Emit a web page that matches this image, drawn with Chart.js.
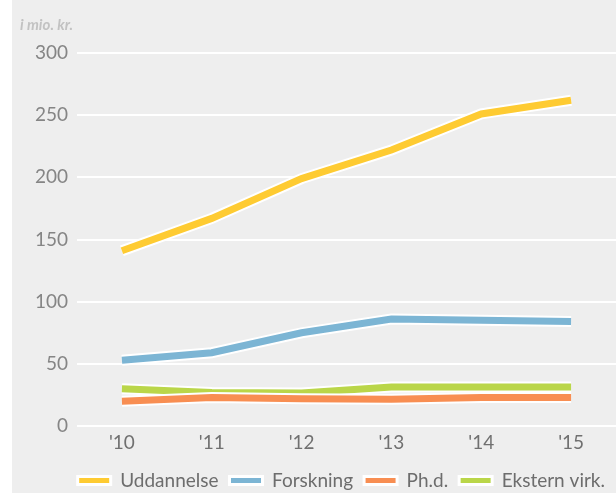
<!DOCTYPE html>
<html lang="da">
<head>
<meta charset="UTF-8">
<title>Indtægter</title>
<script src="https://cdn.jsdelivr.net/npm/chart.js@4.4.0/dist/chart.umd.min.js"></script>
<style>
    body {
        margin: 0;
        background: #ffffff;
    }
    .wrap {
        position: absolute;
        left: 12px;
        top: 0;
        width: 604px;
        height: 493px;
        background: #eeeeee;
    }
</style>
</head>
<body>
<div class="wrap">
    <canvas id="chart" width="604" height="493"></canvas>
</div>
<script>
    const years = ["'10", "'11", "'12", "'13", "'14", "'15"];
    const uddannelse = [141, 167, 199, 222, 251, 262];
    const forskning = [53, 59, 75, 86, 85, 84];
    const phd = [20, 23, 22, 21.5, 23, 23];
    const ekstern = [30, 27, 26.5, 31.5, 31.5, 31.5];

    const seriesNames = ['Uddannelse', 'Forskning', 'Ph.d.', 'Ekstern virk.'];
    const seriesColors = ['#fecb32', '#7cb5d4', '#f88e52', '#bad649'];

    // white edge under each line, so crossing lines stay apart
    const outline = {
        id: 'outline',
        beforeDatasetDraw(chart, args) {
            const pts = args.meta.data;
            const ctx = chart.ctx;
            ctx.save();
            ctx.beginPath();
            pts.forEach((p, i) => i ? ctx.lineTo(p.x, p.y) : ctx.moveTo(p.x, p.y));
            ctx.lineWidth = 11;
            ctx.lineJoin = 'miter';
            ctx.lineCap = 'butt';
            ctx.strokeStyle = '#ffffff';
            ctx.stroke();
            ctx.restore();
        }
    };

    // legend sits close to the bottom edge: cap its height
    const legendFit = {
        id: 'legendFit',
        beforeInit(chart) {
            const fit = chart.legend.fit;
            chart.legend.fit = function () {
                fit.call(this);
                this.height = 33;
            };
        }
    };

    const values = [uddannelse, forskning, phd, ekstern];
    const datasets = values.map((data, i) => ({
        label: seriesNames[i],
        data: data,
        borderColor: seriesColors[i],
        backgroundColor: seriesColors[i],
        borderWidth: 7,
        borderCapStyle: 'butt',
        borderJoinStyle: 'miter',
        pointRadius: 0,
        tension: 0
    }));

    new Chart(document.getElementById('chart'), {
        type: 'line',
        data: { labels: years, datasets: datasets },
        plugins: [outline, legendFit],
        options: {
            responsive: false,
            animation: false,
            layout: { padding: { left: 8, right: 0, top: 0, bottom: 0 } },
            plugins: {
                tooltip: { enabled: false },
                title: {
                    display: true,
                    text: 'i mio. kr.',
                    align: 'start',
                    color: '#c2c2c2',
                    font: { family: 'Lato', size: 15, style: 'italic', lineHeight: 1.2 },
                    padding: { top: 16, bottom: 19 }
                },
                legend: {
                    position: 'bottom',
                    align: 'end',
                    labels: {
                        color: '#6d6d6d',
                        font: { family: 'Lato', size: 19 },
                        boxWidth: 33,
                        boxHeight: 8,
                        padding: 11,
                        generateLabels: (chart) => chart.data.datasets.map((ds, i) => ({
                            text: ds.label,
                            fillStyle: ds.borderColor,
                            strokeStyle: '#ffffff',
                            lineWidth: 3,
                            fontColor: '#6d6d6d',
                            datasetIndex: i
                        }))
                    }
                }
            },
            scales: {
                x: {
                    offset: true,
                    grid: { display: false, drawTicks: false },
                    border: { display: false },
                    ticks: {
                        color: '#707070',
                        font: { family: 'Lato', size: 19, lineHeight: 1.26 },
                        padding: 5
                    }
                },
                y: {
                    min: 0,
                    max: 300,
                    afterFit: (axis) => { axis.width = 57; },
                    grid: { color: '#ffffff', lineWidth: 2, drawTicks: false },
                    border: { display: false },
                    ticks: {
                        stepSize: 50,
                        color: '#858585',
                        font: { family: 'Lato', size: 19 },
                        padding: 9
                    }
                }
            }
        }
    });
</script>
</body>
</html>
